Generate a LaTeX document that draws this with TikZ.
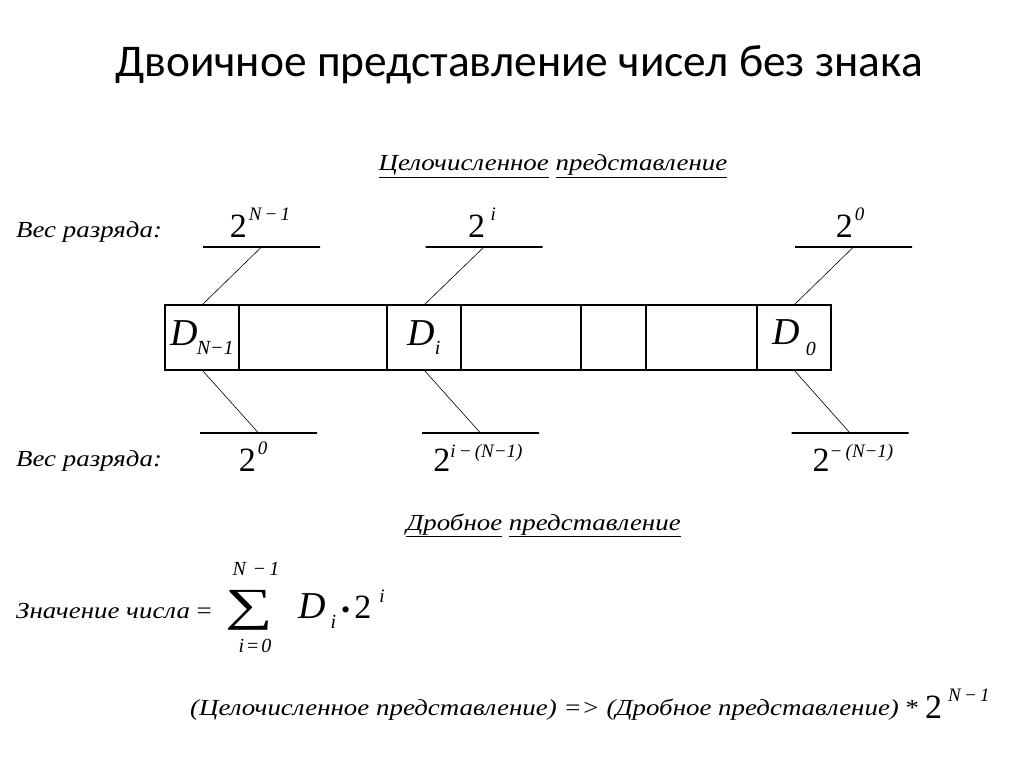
\documentclass[tikz,border=0pt]{standalone}
\usepackage{fontspec}
\usetikzlibrary{positioning}
\setmainfont{Liberation Serif}
\newfontfamily\titlefont{Carlito}
\newcommand\fsz[1]{\fontsize{#1}{#1}\selectfont}
% raised / lowered small italic index
\newcommand\hi[2][17pt]{\raisebox{#1}{\fsz{19}\itshape #2}}
\newcommand\lo[2][-9pt]{\raisebox{#1}{\fsz{20}\itshape #2}}
\newcommand\wide[1]{\scalebox{1.17}[1]{#1}}
\begin{document}
\begin{tikzpicture}[x=1pt, y=-1pt,
	cell/.style={draw, line width=1.2pt, minimum height=65pt, inner sep=0pt, outer sep=0pt, anchor=west, font=\fsz{38}\itshape},
	bar/.style={draw, line width=1.2pt, minimum width=117pt, minimum height=0pt, inner sep=0pt, outer sep=0pt},
	wlabel/.style={anchor=base, inner sep=0pt, font=\fsz{34}},
	lbl/.style={anchor=base west, inner sep=0pt, font=\fsz{23}\itshape},
	head/.style={anchor=base, inner sep=0pt, font=\fsz{23}\itshape},
	slant/.style={line width=0.6pt}]
	\fill[white] (0,0) rectangle (1024,767);
	\useasboundingbox (0,0) rectangle (1024,767);
	\node[anchor=base west, inner sep=0pt, font=\titlefont\fsz{45.4}] (title) at (115,77) {Двоичное представление чисел без знака};
	\node[head] (h1) at (553,171) {\wide{\underline{Целочисленное} \underline{представление}}};
	\node[lbl] (w1) at (16,237) {\wide{Вес разряда:}};
	\node[lbl] (w2) at (16,466) {\wide{Вес разряда:}};
	% bit cells
	\node[cell, minimum width=74pt] (c1) at (165,337.5) {D\kern-1pt\lo{N−1}};
	\node[cell, minimum width=148pt, right=0pt of c1] (c2) {};
	\node[cell, minimum width=74pt, right=0pt of c2] (c3) {D\lo{i}};
	\node[cell, minimum width=120pt, right=0pt of c3] (c4) {};
	\node[cell, minimum width=65pt, right=0pt of c4] (c5) {};
	\node[cell, minimum width=111pt, right=0pt of c5] (c6) {};
	\node[cell, minimum width=74pt, right=0pt of c6] (c7) {D\,\lo[-11pt]{0}};
	% weights above
	\node[bar] (t1) at (261.5,247) {};
	\node[bar] (t2) at (484,247) {};
	\node[bar] (t3) at (853.5,247) {};
	\node[wlabel] (tl1) at (260,237) {2\kern2pt\hi{N\,−\,1}};
	\node[wlabel] (tl2) at (482,237) {2\,\hi{i}};
	\node[wlabel] (tl3) at (850,237) {2\kern2pt\hi{0}};
	\draw[slant] (c1.north) -- (t1.center);
	\draw[slant] (c3.north) -- (t2.center);
	\draw[slant] (c7.north) -- (t3.center);
	% weights below
	\node[bar] (b1) at (258.5,433) {};
	\node[bar] (b2) at (480.5,433) {};
	\node[bar] (b3) at (850,433) {};
	\node[wlabel] (bl1) at (253,471) {2\kern2pt\hi{0}};
	\node[wlabel] (bl2) at (478,471) {2\hi[14pt]{i\,−\,(N−1)}};
	\node[wlabel] (bl3) at (853,471) {2\hi[14pt]{−\,(N−1)}};
	\draw[slant] (c1.south) -- (b1.center);
	\draw[slant] (c3.south) -- (b2.center);
	\draw[slant] (c7.south) -- (b3.center);
	\node[head] (h2) at (543.5,530) {\wide{\underline{Дробное} \underline{представление}}};
	% value of the number
	\node[lbl] (val) at (16,618) {\wide{Значение числа {\upshape=}}};
	\node[anchor=base, inner sep=0pt, font=\fsz{46}] (sum) at (249,620) {\scalebox{1.45}[1]{∑}};
	\node[anchor=base, inner sep=0pt, font=\fsz{20}\itshape] (top) at (256,575) {N\,\,−\,1};
	\node[anchor=base, inner sep=0pt, font=\fsz{20}\itshape] (bot) at (255,652) {i\kern3pt{\upshape=}\kern3pt0};
	\node[anchor=base west, inner sep=0pt, font=\fsz{34}] (term) at (298,618) {{\fsz{38}\textit{D}}\kern5pt\lo[-10pt]{i}\kern5pt{\fsz{26}•}\kern4pt2\kern8pt\hi[16pt]{i}};
	\node[lbl] (rel) at (190,715) {\wide{(Целочисленное представление) => (Дробное представление) {\upshape *}}};
	\node[anchor=base west, inner sep=0pt, font=\fsz{34}] (scale) at (925,718) {2\kern6pt\hi{N\,−\,1}};
\end{tikzpicture}
\end{document}
